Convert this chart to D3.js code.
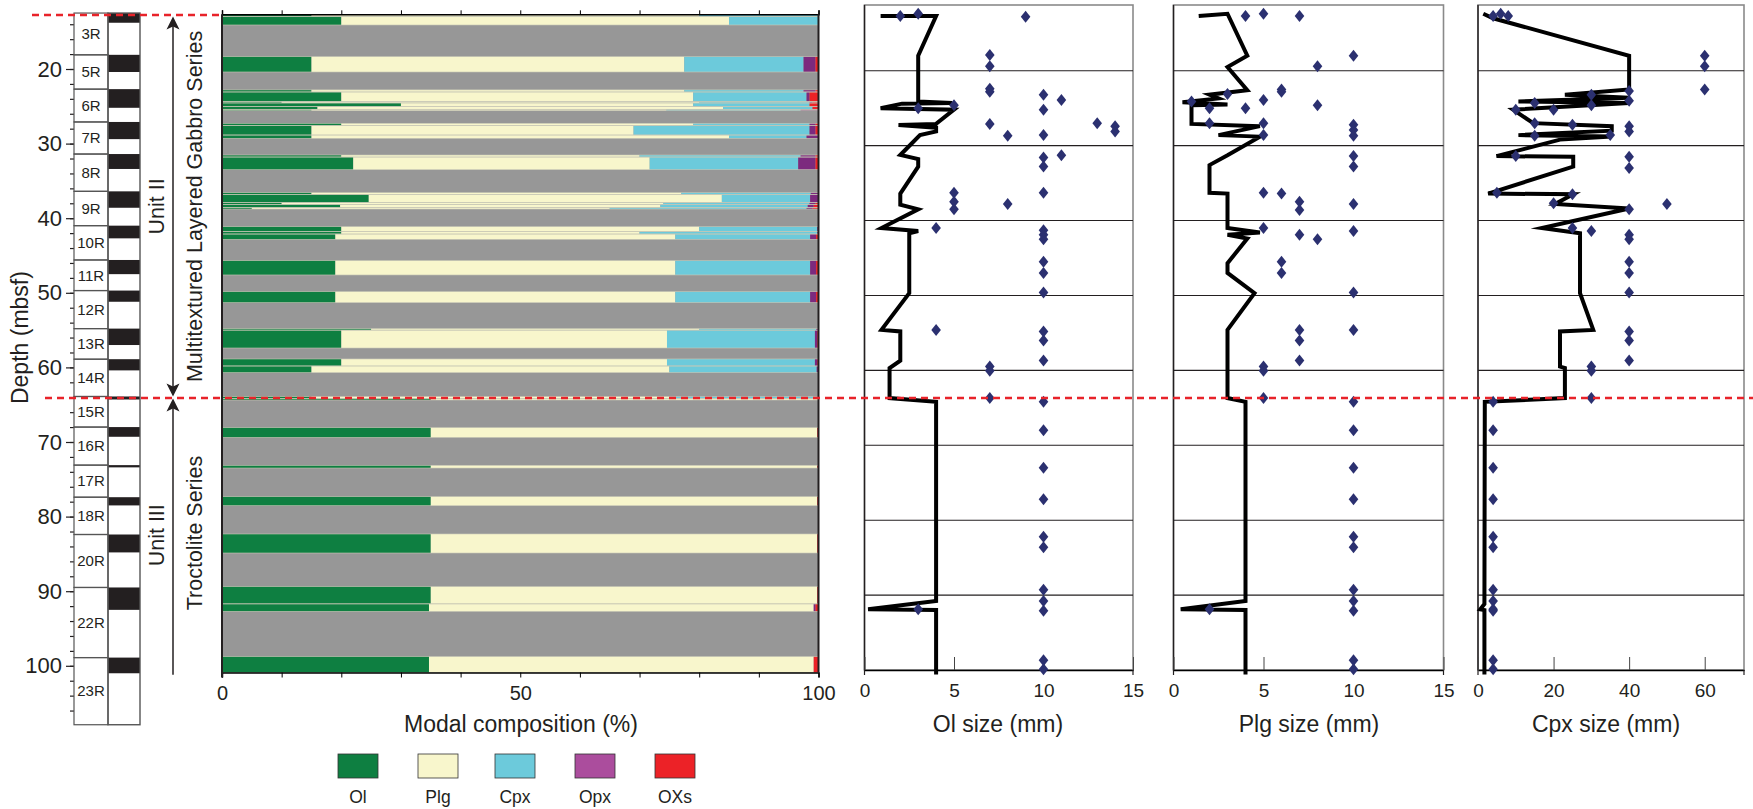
<!DOCTYPE html>
<html>
<head>
<meta charset="utf-8">
<script src="https://cdn.jsdelivr.net/npm/d3@7"></script>
<style>
  body { margin: 0; background: #fff; }
  svg { display: block; font-family: "Liberation Sans", Arial, Helvetica, sans-serif; }
</style>
</head>
<body>
<svg id="chart" width="1753" height="809"></svg>
<script>
// ---- Cores: names, top depths (mbsf) and base of the recovered interval ----
const coreNames = ["3R","5R","6R","7R","8R","9R","10R","11R","12R","13R","14R","15R","16R","17R","18R","20R","22R","23R"];
const coreTops = [12.5,18.1,22.7,27.1,31.4,36.4,41.0,45.6,49.7,54.8,58.9,63.9,68.0,73.1,77.4,82.4,89.5,98.9];
const holeBottom = 107.9;
const recoveredBase = [13.8,20.4,25.2,29.4,33.4,38.6,42.7,47.5,51.2,57.0,60.4,64.3,69.3,73.4,78.5,84.8,92.5,101.0];

// ---- Modal composition intervals (depth top/base, vol%) ----
const modalTop  = [12.67,12.95,18.35,22.8,23.08,24.37,24.55,25.05,25.4,27.28,27.59,28.85,31.53,31.8,36.58,36.8,37.92,38.14,38.59,41.14,41.81,42.12,45.69,49.85,54.81,55.0,58.87,59.81,63.92,64.15,68.08,73.13,77.33,82.33,89.39,91.7,98.77];
const modalBase = [12.95,14.1,20.4,23.08,24.37,24.55,25.05,25.4,25.58,27.59,28.85,29.29,31.8,33.5,36.8,37.92,38.14,38.59,38.77,41.81,42.12,42.83,47.61,51.32,55.0,57.4,59.81,60.7,64.15,64.37,69.38,73.49,78.54,84.88,91.7,92.7,100.91];
const olPct  = [15,20,15,15,20,10,30,16,15,20,15,15,20,22,15,24.6,10,19.8,5,20,20,19,19,19,25,20,20,15,15,35,35,35,35,35,35,34.7,34.7];
const plgPct = [65,65,62.5,62.5,59,70,49,68,59.5,59,54,70,50,49.7,62,59.2,64,53.7,60,60,50,57,57,57,55,54.6,54.6,60,60,65,64.8,64.8,64.8,64.8,64.8,64.5,64.5];
const cpxPct = [20,15,20,20,19,18.5,19.5,15,22.5,19.5,29.5,13,27,24.9,21.7,14.8,24.5,24.7,33,19.8,29.8,22.6,22.6,22.6,19.6,24.8,24.8,24.7,24.7,0,0,0,0,0,0,0,0];
const opxPct = [0,0,2,2,0.5,0.5,0,0,3,1,1,2,2.5,2.9,1.3,1.4,1,1,1,0.2,0.2,1,1,1,0.4,0.4,0.4,0.3,0.3,0,0,0,0,0,0,0.3,0];
const oxPct  = [0,0,0.5,0.5,1.5,1,1.5,1,0,0.5,0.5,0,0.5,0.5,0,0,0.5,0.8,1,0,0,0.4,0.4,0.4,0,0.2,0.2,0,0,0,0.2,0.2,0.2,0.2,0.2,0.5,0.8];
const minerals = ["Ol","Plg","Cpx","Opx","OXs"];
const barColors    = ["#0e7f41","#f8f6cc","#6ccadb","#7c2a7e","#ec2227"];
const legendColors = ["#0e7f41","#f8f6cc","#6ccadb","#ab4d9d","#ec2227"];

// ---- Grain sizes: [depth, size mm] ----
const olSizes = [[12.4,3],[12.7,2],[12.8,9],[17.9,7],[19.4,7],[22.4,7],[22.8,7],[23.2,10],[23.9,11],[24.6,5],[25.0,3],[25.2,10],[27.0,13],[27.1,7],[27.4,14],[28.1,14],[28.6,10],[28.7,8],[31.3,11],[31.6,10],[32.8,10],[36.3,10],[36.3,5],[37.5,5],[37.8,8],[38.5,5],[41.0,4],[41.3,10],[41.9,10],[42.5,10],[45.5,10],[47.0,10],[49.6,10],[54.6,4],[54.8,10],[56.0,10],[58.7,10],[59.5,7],[60.05,7],[63.7,7],[64.2,10],[68.0,10],[73.0,10],[77.2,10],[82.2,10],[83.6,10],[89.3,10],[90.8,10],[91.9,3],[92.1,10],[98.7,10],[99.9,10]];
const plgSizes = [[12.4,5],[12.7,4],[12.7,7],[18.0,10],[19.4,8],[22.5,6],[22.8,6],[23.1,3],[23.9,5],[24.1,1],[24.6,8],[25.0,2],[25.0,4],[27.0,2],[27.0,5],[27.2,10],[27.9,10],[28.6,5],[28.7,10],[31.4,10],[32.8,10],[36.3,5],[36.4,6],[37.5,7],[37.8,10],[38.6,7],[41.0,5],[41.4,10],[41.9,7],[42.5,8],[45.5,6],[47.0,6],[49.6,10],[54.6,7],[54.6,10],[56.0,7],[58.7,7],[59.5,5],[60.05,5],[63.7,5],[64.2,10],[68.0,10],[73.0,10],[77.2,10],[82.2,10],[83.6,10],[89.3,10],[90.8,10],[91.9,2],[92.1,10],[98.7,10],[99.9,10]];
const cpxSizes = [[12.4,6],[12.7,4],[12.7,8],[18.0,60],[19.4,60],[22.5,60],[22.7,40],[23.2,30],[24.0,40],[24.3,15],[24.6,30],[25.2,10],[25.2,20],[27.0,15],[27.2,25],[27.4,40],[28.1,40],[28.6,35],[28.7,15],[31.4,10],[31.5,40],[33.0,40],[36.3,5],[36.5,25],[37.7,20],[37.8,50],[38.5,40],[41.0,25],[41.4,30],[41.9,40],[42.5,40],[45.5,40],[47.0,40],[49.6,40],[54.8,40],[56.0,40],[58.7,40],[59.5,30],[60.05,30],[63.7,30],[64.2,4],[68.0,4],[73.0,4],[77.2,4],[82.2,4],[83.6,4],[89.3,4],[90.8,4],[91.9,4],[92.1,4],[98.7,4],[99.9,4]];

// ---- Downhole trend lines: [size mm, depth] ----
const olTrend = [[0.9,12.7],[4.0,12.7],[3.0,18.0],[3.0,24.1],[4.9,24.3],[2.1,24.4],[0.9,25.0],[5.0,25.2],[4.0,27.1],[1.9,27.25],[4.0,27.6],[4.0,28.1],[3.1,28.6],[2.0,31.25],[3.0,31.8],[3.0,32.8],[2.0,36.4],[2.0,37.9],[3.0,38.5],[0.95,41.0],[3.0,41.4],[2.5,41.7],[2.5,49.7],[0.95,54.6],[2.0,54.8],[2.0,58.7],[1.4,59.7],[1.4,63.7],[4.0,64.2],[4.0,90.8],[0.2,91.9],[4.0,92.0],[4.0,100.6]];
const plgTrend = [[1.4,12.7],[3.0,12.4],[4.1,18.0],[3.0,19.5],[4.1,22.6],[2.0,23.2],[2.5,23.7],[0.5,24.2],[3.0,24.5],[1.0,24.6],[1.0,27.1],[4.8,27.4],[2.5,28.6],[4.8,28.8],[3.0,31.3],[2.0,32.6],[2.0,36.3],[3.0,36.4],[3.0,41.0],[4.8,41.6],[3.0,41.9],[4.1,42.4],[3.0,45.7],[3.0,47.0],[4.5,49.7],[3.0,54.6],[3.0,63.7],[4.0,64.2],[4.0,90.8],[0.4,91.9],[4.0,92.0],[4.0,100.6]];
const cpxTrend = [[1.4,12.4],[4,13.0],[40,18.0],[40,22.5],[23,23.2],[40,23.6],[10.7,24.1],[40,24.3],[9.3,25.2],[14.6,27.0],[35.4,27.4],[35.4,28.0],[10.7,28.6],[35.4,28.8],[21.7,29.2],[4.9,31.4],[25.2,31.5],[25.2,32.8],[2.7,36.4],[25.2,36.5],[20.4,37.8],[40,38.4],[16.9,41.0],[27,41.7],[27,49.7],[30.5,54.6],[21.7,54.8],[21.7,59.5],[23,59.7],[23,63.7],[1.8,64.2],[1.7,91.2],[0.6,91.9],[1.7,92.0],[1.7,100.6]];

// ---- Tick values ----
const depthLabels = [20,30,40,50,60,70,80,90,100];
const depthMinor = d3.range(14, 107, 2);
const modalTicks = d3.range(0, 101, 10);
const modalLabels = [0,50,100];
const olTicks = [0,5,10,15];
const plgTicks = [0,5,10,15];
const cpxTicks = [0,20,40,60];
const unitBoundary = 64.1;
const topOfHole = 12.75;

// ---- Scales ----
const depthY = d3.scaleLinear().domain([20, 100]).range([69, 665.8]);
const sizeY  = d3.scaleLinear().domain([20, 100]).range([70.7, 670]);
const modalX = d3.scaleLinear().domain([0, 100]).range([222, 818.5]);
const olX  = d3.scaleLinear().domain([0, 15]).range([864.5, 1133]);
const plgX = d3.scaleLinear().domain([0, 15]).range([1173.5, 1443.5]);
const cpxX = d3.scaleLinear().domain([0, 70.4]).range([1478, 1744]);

const svg = d3.select("#chart");
const FONT_COLOR = "#231f20";
const FONT = "Liberation Sans, Arial, sans-serif";

// ---- Depth axis ----
const axisG = svg.append("g").attr("transform", "translate(74,0)");
axisG.append("g")
  .call(d3.axisLeft(depthY).tickValues(depthMinor).tickSize(4).tickFormat(""))
  .call(g => g.select(".domain").remove());
axisG.append("g")
  .call(d3.axisLeft(depthY).tickValues(depthLabels).tickSize(8).tickPadding(4))
  .call(g => g.select(".domain").remove())
  .call(g => g.selectAll("text").attr("font-size", 22).attr("fill", FONT_COLOR).attr("font-family", FONT));
axisG.selectAll("line").attr("stroke", "#231f20").attr("stroke-width", 1.2);

svg.append("text")
  .attr("transform", `translate(28,${depthY(56)}) rotate(-90)`)
  .attr("text-anchor", "middle")
  .attr("font-size", 23)
  .attr("fill", FONT_COLOR)
  .text("Depth (mbsf)");

// ---- Core column ----
const coreBases = coreTops.map((t, i) => i < coreTops.length - 1 ? coreTops[i + 1] : holeBottom);
const coreG = svg.append("g");
coreG.selectAll("rect.recov").data(coreTops).join("rect")
  .attr("x", 108).attr("width", 32)
  .attr("y", d => depthY(d))
  .attr("height", (d, i) => depthY(recoveredBase[i]) - depthY(d))
  .attr("fill", "#231f20");
coreG.selectAll("rect.lbl").data(coreTops).join("rect")
  .attr("x", 74).attr("width", 34)
  .attr("y", d => depthY(d))
  .attr("height", (d, i) => depthY(coreBases[i]) - depthY(d))
  .attr("fill", "none").attr("stroke", "#555").attr("stroke-width", 1.2);
coreG.append("rect")
  .attr("x", 108).attr("width", 32)
  .attr("y", depthY(coreTops[0]))
  .attr("height", depthY(holeBottom) - depthY(coreTops[0]))
  .attr("fill", "none").attr("stroke", "#555").attr("stroke-width", 1.4);
coreG.selectAll("text").data(coreNames).join("text")
  .attr("x", 91)
  .attr("y", (d, i) => (depthY(coreTops[i]) + depthY(coreBases[i])) / 2)
  .attr("dy", "0.35em")
  .attr("text-anchor", "middle")
  .attr("font-size", 15)
  .attr("fill", FONT_COLOR)
  .text(d => d);

// ---- Unit arrows and labels ----
function arrowHead(x, tipY, dir) {
  // dir = -1 points up, 1 points down
  const b = tipY - dir * 13, n = tipY - dir * 10;
  return `M${x},${tipY}L${x + 6.5},${b}L${x},${n}L${x - 6.5},${b}Z`;
}
const unitG = svg.append("g").attr("fill", "#231f20");
unitG.append("line").attr("x1", 173).attr("x2", 173)
  .attr("y1", depthY(topOfHole) + 6).attr("y2", depthY(unitBoundary) - 6)
  .attr("stroke", "#231f20").attr("stroke-width", 1.5);
unitG.append("path").attr("d", arrowHead(173, depthY(topOfHole) + 1.5, -1));
unitG.append("path").attr("d", arrowHead(173, depthY(unitBoundary) - 1.5, 1));
unitG.append("line").attr("x1", 173).attr("x2", 173)
  .attr("y1", depthY(unitBoundary) + 6).attr("y2", depthY(101.2))
  .attr("stroke", "#231f20").attr("stroke-width", 1.5);
unitG.append("path").attr("d", arrowHead(173, depthY(unitBoundary) + 0.5, -1));

const unitText = [
  {x: 157, d: (topOfHole + unitBoundary) / 2, t: "Unit II"},
  {x: 195, d: (topOfHole + unitBoundary) / 2, t: "Multitextured Layered Gabbro Series"},
  {x: 157, d: 82.5, t: "Unit III"},
  {x: 195, d: 82.2, t: "Troctolite Series"}
];
svg.append("g").selectAll("text").data(unitText).join("text")
  .attr("transform", d => `translate(${d.x + 7},${depthY(d.d)}) rotate(-90)`)
  .attr("text-anchor", "middle")
  .attr("font-size", 21.5)
  .attr("fill", FONT_COLOR)
  .text(d => d.t);

// ---- Modal composition panel ----
const modalG = svg.append("g");
const panelTop = depthY(12.67), panelBottom = depthY(100.9);
modalG.append("rect")
  .attr("x", modalX(0)).attr("width", modalX(100) - modalX(0))
  .attr("y", panelTop).attr("height", panelBottom - panelTop)
  .attr("fill", "#979797");

const rows = modalTop.map((t, i) => ({
  top: t, base: modalBase[i],
  Ol: olPct[i], Plg: plgPct[i], Cpx: cpxPct[i], Opx: opxPct[i], OXs: oxPct[i]
}));
const layers = d3.stack().keys(minerals)(rows);
layers.forEach((layer, k) => {
  modalG.append("g").selectAll("rect")
    .data(layer.filter(d => d[1] - d[0] > 0))
    .join("rect")
    .attr("x", d => modalX(d[0]))
    .attr("width", d => modalX(d[1]) - modalX(d[0]))
    .attr("y", d => depthY(d.data.top))
    .attr("height", d => depthY(d.data.base) - depthY(d.data.top))
    .attr("fill", barColors[k]);
});
// thin outlines between sample intervals
modalG.append("g").selectAll("rect").data(rows).join("rect")
  .attr("x", modalX(0)).attr("width", modalX(100) - modalX(0))
  .attr("y", d => depthY(d.top))
  .attr("height", d => depthY(d.base) - depthY(d.top))
  .attr("fill", "none").attr("stroke", "#c9c9b6").attr("stroke-width", 0.6);

// axes of the modal panel
modalG.append("g").attr("transform", `translate(0,${panelBottom})`)
  .call(d3.axisBottom(modalX).tickValues(modalTicks).tickSize(5).tickPadding(8)
    .tickFormat(d => modalLabels.includes(d) ? d : ""))
  .call(g => g.selectAll("text").attr("font-size", 20).attr("fill", FONT_COLOR).attr("font-family", FONT))
  .call(g => g.select(".domain").attr("stroke-width", 1.5));
modalG.append("g").attr("transform", `translate(0,${panelTop})`)
  .call(d3.axisTop(modalX).tickValues(modalTicks).tickSize(4).tickFormat(""))
  .call(g => g.select(".domain").attr("stroke-width", 1.5));
modalG.append("line").attr("x1", modalX(0)).attr("x2", modalX(0))
  .attr("y1", panelTop).attr("y2", panelBottom + 5)
  .attr("stroke", "#231f20").attr("stroke-width", 2);
modalG.append("line").attr("x1", modalX(100)).attr("x2", modalX(100))
  .attr("y1", panelTop).attr("y2", panelBottom)
  .attr("stroke", "#231f20").attr("stroke-width", 2);
svg.append("text")
  .attr("x", 521).attr("y", 732)
  .attr("text-anchor", "middle").attr("font-size", 23).attr("fill", FONT_COLOR)
  .text("Modal composition (%)");

// ---- Legend ----
const legendX = [338, 418, 495, 575, 655];
const legG = svg.append("g");
legG.selectAll("rect").data(minerals).join("rect")
  .attr("x", (d, i) => legendX[i]).attr("y", 754)
  .attr("width", 40).attr("height", 24)
  .attr("fill", (d, i) => legendColors[i])
  .attr("stroke", "#333").attr("stroke-width", 0.8);
legG.selectAll("text").data(minerals).join("text")
  .attr("x", (d, i) => legendX[i] + 20).attr("y", 803)
  .attr("text-anchor", "middle").attr("font-size", 17.5).attr("fill", FONT_COLOR)
  .text(d => d);

// ---- Grain-size panels ----
const diamond = "M0,-6L4.8,0L0,6L-4.8,0Z";
function sizePanel(x, sizes, trend, ticks, title, titleX) {
  const g = svg.append("g");
  const x0 = x.range()[0], x1 = x.range()[1];
  const yTop = 5, yBot = sizeY(100);
  g.append("rect").attr("x", x0).attr("y", yTop)
    .attr("width", x1 - x0).attr("height", yBot - yTop)
    .attr("fill", "#fff").attr("stroke", "#8a8a8a").attr("stroke-width", 1.6);
  g.append("line").attr("x1", x0).attr("x2", x0).attr("y1", yTop).attr("y2", yBot)
    .attr("stroke", "#231f20").attr("stroke-width", 1.4);
  g.selectAll("line.grid").data(d3.range(20, 100, 10)).join("line")
    .attr("x1", x0).attr("x2", x1)
    .attr("y1", d => sizeY(d)).attr("y2", d => sizeY(d))
    .attr("stroke", "#231f20").attr("stroke-width", 1.1);
  // axis: interior ticks point up into the panel
  g.append("g").attr("transform", `translate(0,${yBot})`)
    .call(d3.axisBottom(x).tickValues(ticks).tickSizeInner(-13).tickSizeOuter(0).tickPadding(14))
    .call(a => a.selectAll("text").attr("font-size", 19).attr("fill", FONT_COLOR).attr("font-family", FONT))
    .call(a => a.select(".domain").attr("stroke-width", 1.5))
    .call(a => a.selectAll(".tick line").attr("stroke", "#444"));
  g.selectAll("line.out").data([x0, x1]).join("line")
    .attr("x1", d => d).attr("x2", d => d).attr("y1", yBot).attr("y2", yBot + 5)
    .attr("stroke", "#231f20").attr("stroke-width", 1.2);
  // trend line
  g.append("path")
    .datum(trend)
    .attr("d", d3.line().x(d => x(d[0])).y(d => sizeY(d[1])))
    .attr("fill", "none").attr("stroke", "#000").attr("stroke-width", 4)
    .attr("stroke-linejoin", "miter").attr("stroke-miterlimit", 6);
  // samples
  g.selectAll("path.pt").data(sizes).join("path")
    .attr("d", diamond)
    .attr("transform", d => `translate(${x(d[1])},${sizeY(d[0])})`)
    .attr("fill", "#2b3070");
  svg.append("text").attr("x", titleX).attr("y", 732)
    .attr("text-anchor", "middle").attr("font-size", 23).attr("fill", FONT_COLOR)
    .text(title);
}
sizePanel(olX, olSizes, olTrend, olTicks, "Ol size (mm)", 998);
sizePanel(plgX, plgSizes, plgTrend, plgTicks, "Plg size (mm)", 1309);
sizePanel(cpxX, cpxSizes, cpxTrend, cpxTicks, "Cpx size (mm)", 1606);

// ---- Red dashed markers: top of hole and Unit II / III boundary ----
svg.append("line")
  .attr("x1", 32).attr("x2", modalX(0))
  .attr("y1", depthY(topOfHole)).attr("y2", depthY(topOfHole))
  .attr("stroke", "#e8232a").attr("stroke-width", 2.5).attr("stroke-dasharray", "7,5");
svg.append("line")
  .attr("x1", 45).attr("x2", 1753)
  .attr("y1", depthY(unitBoundary)).attr("y2", depthY(unitBoundary))
  .attr("stroke", "#e8232a").attr("stroke-width", 2.5).attr("stroke-dasharray", "7,5");
</script>
</body>
</html>
